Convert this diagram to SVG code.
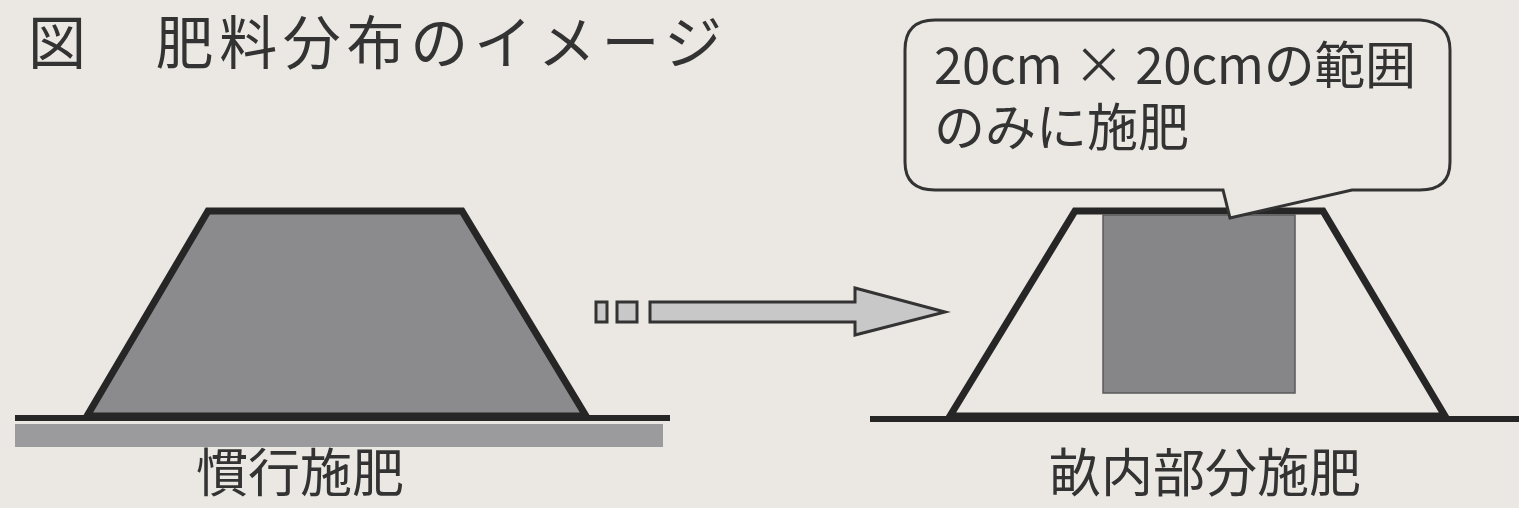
<svg xmlns="http://www.w3.org/2000/svg" width="1519" height="508" viewBox="0 0 1519 508">
<style>
.t{font-family:"Noto Sans CJK JP","Noto Sans CJK SC",sans-serif;fill:#333;}
.ol{stroke:#262626;stroke-width:7;stroke-linejoin:miter;}
.gl{stroke:#262626;stroke-width:6;}
</style>
<rect width="1519" height="508" fill="#ebe8e3"/>
<g id="title"><text class="t" x="28" y="64" font-size="58" textLength="694">図　肥料分布のイメージ</text></g>
<g id="conventional">
<rect x="15" y="424" width="648" height="23" fill="#9b9a9c"/>
<polygon class="ol" points="208,211 462,211 586,416 87,416" fill="#8b8a8d"/>
<line class="gl" x1="15" y1="418" x2="670" y2="418"/>
<text class="t" x="300" y="492" font-size="52" text-anchor="middle">慣行施肥</text>
</g>
<g id="connectors">
<g fill="#c9c8c8" stroke="#333" stroke-width="3">
<rect x="596" y="302" width="11" height="20"/>
<rect x="617" y="302" width="20" height="20"/>
<polygon points="650,302 855,302 855,288 945,312 855,335 855,322 650,322"/>
</g>
</g>
<g id="partial">
<polygon class="ol" points="1075,211 1323,211 1445,416 950,416" fill="none"/>
<rect x="1103" y="215" width="192" height="178" fill="#868588" stroke="#5a5a5a" stroke-width="1.5"/>
<line class="gl" x1="870" y1="419" x2="1519" y2="419"/>
<text class="t" x="1205" y="492" font-size="52" text-anchor="middle">畝内部分施肥</text>
</g>
<g id="callout">
<path d="M935,20 L1420,20 Q1450,22 1450,50 L1450,162 Q1450,190 1420,190 L1352,190 L1230,218 L1223,190 L935,190 Q905,190 905,162 L905,50 Q905,20 935,20 Z" fill="#ebe8e3" stroke="#333" stroke-width="3"/>
<text class="t" font-size="51"><tspan x="934" y="84" textLength="482">20cm × 20cmの範囲</tspan><tspan x="934" y="146">のみに施肥</tspan></text>
</g>
</svg>
